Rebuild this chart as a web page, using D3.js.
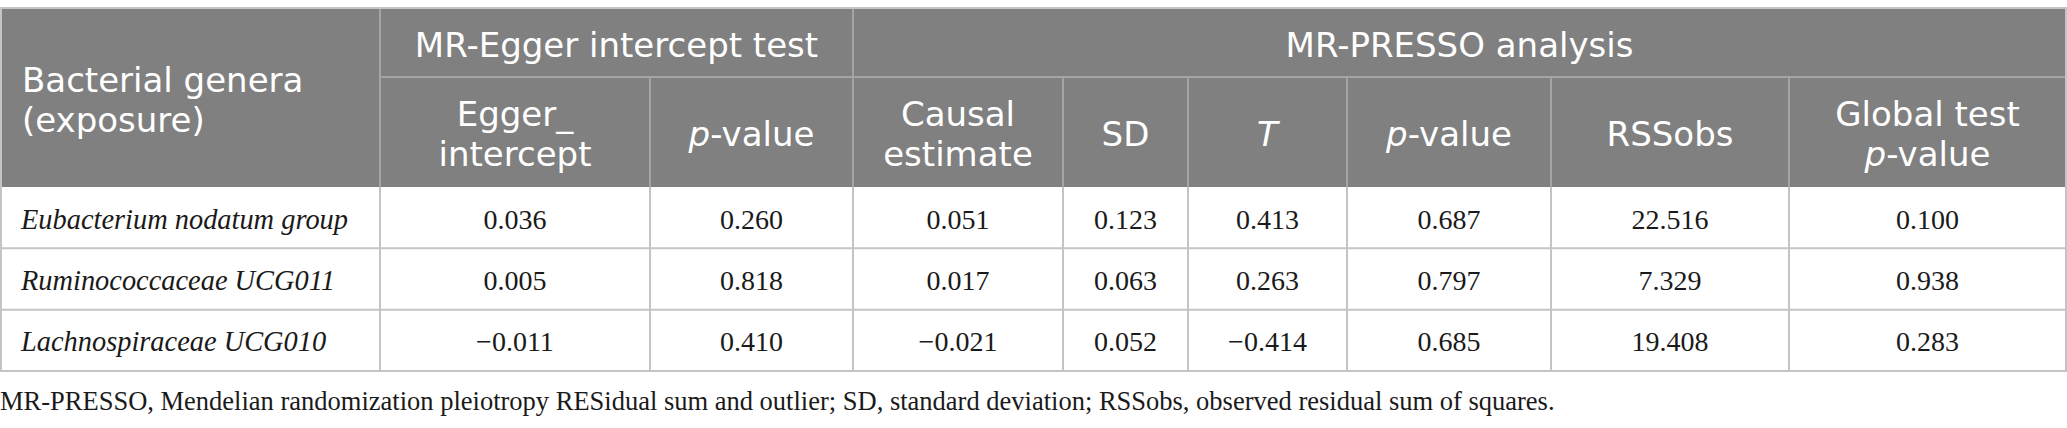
<!DOCTYPE html>
<html>
<head>
<meta charset="utf-8">
<script src="https://cdn.jsdelivr.net/npm/d3@7"></script>
<style>
  body { margin: 0; background: #fff; }
  svg { display: block; }
</style>
</head>
<body>
<svg id="tbl"></svg>
<script>
// table values
const genera = ["Eubacterium nodatum group", "Ruminococcaceae UCG011", "Lachnospiraceae UCG010"];
const eggerIntercept = [0.036, 0.005, -0.011];
const eggerP = [0.260, 0.818, 0.410];
const causalEstimate = [0.051, 0.017, -0.021];
const sdValues = [0.123, 0.063, 0.052];
const tValues = [0.413, 0.263, -0.414];
const pressoP = [0.687, 0.797, 0.685];
const rssObs = [22.516, 7.329, 19.408];
const globalP = [0.100, 0.938, 0.283];

const groupHeaders = ["MR-Egger intercept test", "MR-PRESSO analysis"];
// each header line is a list of [text, italic]
const colHeaders = [
  [[["Bacterial genera", false]], [["(exposure)", false]]],
  [[["Egger_", false]], [["intercept", false]]],
  [[["p", true], ["-value", false]]],
  [[["Causal", false]], [["estimate", false]]],
  [[["SD", false]]],
  [[["T", true]]],
  [[["p", true], ["-value", false]]],
  [[["RSSobs", false]]],
  [[["Global test", false]], [["p", true], ["-value", false]]]
];
const footnote = "MR-PRESSO, Mendelian randomization pleiotropy RESidual sum and outlier; SD, standard deviation; RSSobs, observed residual sum of squares.";

const width = 2067, height = 428;
const colEdges = [1, 380, 650, 853, 1063, 1188, 1347, 1551, 1789, 2066];
const topY = 8, midY = 77, headY = 187, bottomY = 371;

const headFill = "#808080";
const headLine = "#a4a4a4";
const gridLine = "#c4c4c4";
const sansFont = "'DejaVu Sans', sans-serif";
const serifFont = "'Liberation Serif', 'Times New Roman', serif";

const svg = d3.select("#tbl").attr("width", width).attr("height", height);

const columns = [eggerIntercept, eggerP, causalEstimate, sdValues, tValues, pressoP, rssObs, globalP];
const fmt = d3.format(".3f");

// x: one band per column; y: one band per genus
const colIdx = d3.range(colEdges.length - 1);
const xLeft = d3.scaleOrdinal().domain(colIdx).range(colEdges.slice(0, -1));
const xRight = d3.scaleOrdinal().domain(colIdx).range(colEdges.slice(1));
const xMid = i => (xLeft(i) + xRight(i)) / 2;
const y = d3.scaleBand().domain(genera).range([headY, bottomY]);

// header background
svg.append("rect")
  .attr("x", colEdges[0]).attr("y", topY)
  .attr("width", colEdges[colEdges.length - 1] - colEdges[0])
  .attr("height", headY - topY)
  .attr("fill", headFill);

// header lines
const hl = svg.append("g").attr("stroke", headLine).attr("stroke-width", 2);
hl.append("line").attr("x1", colEdges[1]).attr("x2", colEdges[9]).attr("y1", midY).attr("y2", midY);
colIdx.slice(1).forEach(i => {
  const full = i === 1 || i === 3;
  hl.append("line")
    .attr("x1", xLeft(i)).attr("x2", xLeft(i))
    .attr("y1", full ? topY : midY).attr("y2", headY);
});

// body grid
const gl = svg.append("g").attr("stroke", gridLine).attr("stroke-width", 2);
gl.append("line").attr("x1", 0).attr("x2", width).attr("y1", topY).attr("y2", topY);
genera.forEach(g => {
  gl.append("line").attr("x1", 0).attr("x2", colEdges[9] + 1)
    .attr("y1", y(g) + y.bandwidth()).attr("y2", y(g) + y.bandwidth());
});
colEdges.forEach(x => {
  gl.append("line").attr("x1", x).attr("x2", x).attr("y1", headY).attr("y2", bottomY);
});
gl.append("line").attr("x1", colEdges[0]).attr("x2", colEdges[0]).attr("y1", topY).attr("y2", headY);
gl.append("line").attr("x1", colEdges[9]).attr("x2", colEdges[9]).attr("y1", topY).attr("y2", headY);

// header text
function headText(x, yBase, lines, anchor) {
  const t = svg.append("text")
    .attr("text-anchor", anchor)
    .attr("font-family", sansFont)
    .attr("font-size", 34)
    .attr("fill", "#fff");
  lines.forEach((segs, li) => {
    segs.forEach((s, si) => {
      const sp = t.append("tspan").text(s[0]).attr("font-style", s[1] ? "italic" : "normal");
      if (si === 0) sp.attr("x", x).attr("y", yBase + li * 40);
    });
  });
}

groupHeaders.forEach((g, i) => {
  const a = i === 0 ? 1 : 3, b = i === 0 ? 3 : 9;
  headText((colEdges[a] + colEdges[b]) / 2, (topY + midY) / 2 + 14, [[[g, false]]], "middle");
});

colHeaders.forEach((lines, i) => {
  const top = i === 0 ? topY : midY;
  const cy = (top + headY) / 2 + 14 - (lines.length - 1) * 20;
  if (i === 0) headText(22, cy, lines, "start");
  else headText(xMid(i), cy, lines, "middle");
});

// body text
svg.append("g").selectAll("text")
  .data(genera)
  .join("text")
  .attr("x", 21)
  .attr("y", d => y(d) + y.bandwidth() / 2 + 11)
  .attr("font-family", serifFont)
  .attr("font-style", "italic")
  .attr("font-size", 28.4)
  .attr("fill", "#1a1a1a")
  .text(d => d);

columns.forEach((vals, c) => {
  svg.append("g").selectAll("text")
    .data(vals)
    .join("text")
    .attr("x", xMid(c + 1))
    .attr("y", (d, i) => y(genera[i]) + y.bandwidth() / 2 + 11)
    .attr("text-anchor", "middle")
    .attr("font-family", serifFont)
    .attr("font-size", 28)
    .attr("fill", "#1a1a1a")
    .text(d => fmt(d));
});

// footnote
svg.append("text")
  .attr("x", 0)
  .attr("y", 410)
  .attr("font-family", serifFont)
  .attr("font-size", 26.5)
  .attr("fill", "#1a1a1a")
  .text(footnote);
</script>
</body>
</html>
